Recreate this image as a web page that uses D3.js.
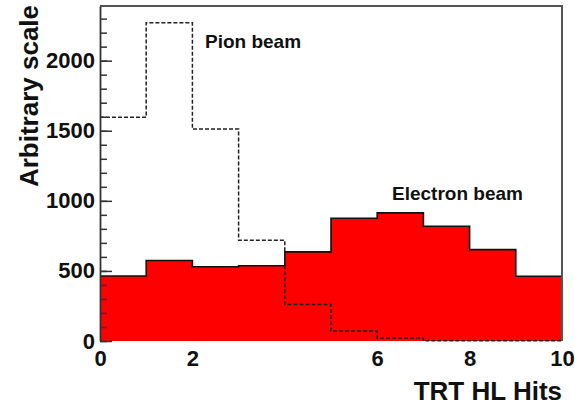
<!DOCTYPE html>
<html>
<head>
<meta charset="utf-8">
<script src="https://cdn.jsdelivr.net/npm/d3@7"></script>
<style>
  body { margin: 0; background: #fff; }
  svg { display: block; font-family: "Liberation Sans", Arial, sans-serif; font-weight: bold; }
</style>
</head>
<body>
<svg width="575" height="406"></svg>
<script>
// bin edges of the TRT HL hits histogram (one unit per bin)
var binEdges = [0, 1, 2, 3, 4, 5, 6, 7, 8, 9, 10];
// counts per bin
var electronCounts = [464, 574, 530, 537, 636, 876, 914, 819, 652, 462];
var pionCounts     = [1596, 2271, 1512, 719, 260, 72, 21, 2, 1, 1];
// tick labels ("4" is not printed in the original)
var xTickValues = [0, 2, 6, 8, 10];
var yTickValues = [0, 500, 1000, 1500, 2000];
var yMinorValues = d3.range(0, 2400, 100);

var svg = d3.select("svg"),
    margin = {top: 6, right: 13, bottom: 65, left: 100},
    width = +svg.attr("width") - margin.left - margin.right,
    height = +svg.attr("height") - margin.top - margin.bottom;

var x = d3.scaleLinear().domain([0, 10]).range([0, width]),
    y = d3.scaleLinear().domain([0, 2390]).range([height, 0]);

var g = svg.append("g")
    .attr("transform", "translate(" + margin.left + "," + margin.top + ")");

// turn bin counts into step points (last edge repeats the last value)
function steps(counts) {
  return binEdges.map(function(e, i) {
    return {x: e, v: counts[Math.min(i, counts.length - 1)]};
  });
}

var area = d3.area()
    .curve(d3.curveStepAfter)
    .x(function(d) { return x(d.x); })
    .y0(y(0))
    .y1(function(d) { return y(d.v); });

var line = d3.line()
    .curve(d3.curveStepAfter)
    .x(function(d) { return x(d.x); })
    .y(function(d) { return y(d.v); });

// electron beam: filled red
g.append("path")
    .datum(steps(electronCounts))
    .attr("fill", "#ff0000")
    .attr("d", area);

g.append("path")
    .datum(steps(electronCounts))
    .attr("fill", "none")
    .attr("stroke", "#111")
    .attr("stroke-width", 1.6)
    .attr("d", line);

// pion beam: dashed
g.append("path")
    .datum(steps(pionCounts))
    .attr("fill", "none")
    .attr("stroke", "#222")
    .attr("stroke-width", 1.5)
    .attr("stroke-dasharray", "4,2")
    .attr("d", line);

// frame top and right
g.append("path")
    .attr("fill", "none")
    .attr("stroke", "#555")
    .attr("stroke-width", 2)
    .attr("d", "M0,0H" + width + "V" + y(0));

// y minor ticks
g.append("g")
    .call(d3.axisLeft(y).tickValues(yMinorValues).tickSizeInner(-7).tickSizeOuter(0).tickFormat(""))
    .call(function(s) { s.select(".domain").remove(); })
    .selectAll("line").attr("stroke", "#333").attr("stroke-width", 1.5);

// y major ticks and labels
var yAx = g.append("g")
    .call(d3.axisLeft(y).tickValues(yTickValues).tickFormat(d3.format("d"))
      .tickSizeInner(-12).tickSizeOuter(0).tickPadding(5));
yAx.select(".domain").attr("stroke", "#333").attr("stroke-width", 1.8);
yAx.selectAll("line").attr("stroke", "#333").attr("stroke-width", 1.5);
yAx.selectAll("text")
    .attr("fill", "#111")
    .style("font-size", "22px")
    .style("font-weight", "bold");

// x labels
var xAx = g.append("g")
    .attr("transform", "translate(0," + height + ")")
    .call(d3.axisBottom(x).tickValues(xTickValues).tickFormat(d3.format("d"))
      .tickSize(0).tickPadding(9));
xAx.select(".domain").remove();
xAx.selectAll("text")
    .attr("fill", "#111")
    .style("font-size", "22px")
    .style("font-weight", "bold");

// axis titles
svg.append("text")
    .attr("x", margin.left + width)
    .attr("y", 400)
    .attr("text-anchor", "end")
    .attr("fill", "#111")
    .style("font-size", "26px")
    .text("TRT HL Hits");

svg.append("text")
    .attr("transform", "translate(38,96) rotate(-90)")
    .attr("text-anchor", "middle")
    .attr("fill", "#111")
    .style("font-size", "26px")
    .text("Arbitrary scale");

// annotations
svg.append("text")
    .attr("x", 205)
    .attr("y", 48)
    .attr("fill", "#111")
    .style("font-size", "19px")
    .text("Pion beam");

svg.append("text")
    .attr("x", 392)
    .attr("y", 200)
    .attr("fill", "#111")
    .style("font-size", "19px")
    .text("Electron beam");
</script>
</body>
</html>
